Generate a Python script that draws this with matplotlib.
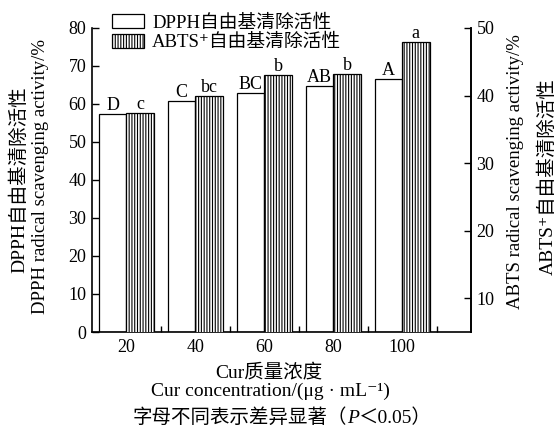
import matplotlib
matplotlib.use('Agg')
import matplotlib.pyplot as plt
import numpy as np

# values
concentrations = ['20', '40', '60', '80', '100']
dpph_values = [57.4, 60.7, 62.8, 64.7, 66.7]
abts_values = [37.4, 39.9, 43.0, 43.2, 48.0]
dpph_letters = ['D', 'C', 'BC', 'AB', 'A']
abts_letters = ['c', 'bc', 'b', 'b', 'a']

plt.rcParams['font.family'] = ['Liberation Serif', 'Noto Sans CJK SC', 'DejaVu Sans']
plt.rcParams['font.size'] = 12.5
plt.rcParams['hatch.linewidth'] = 0.8

W, H = 558, 436
fig = plt.figure(figsize=(W / 100, H / 100), dpi=100)
ax = fig.add_axes([92 / W, 1 - 332 / H, (471 - 92) / W, (332 - 28) / H])
ax2 = ax.twinx()

x = np.arange(len(concentrations))
bw = 0.4
b1 = ax.bar(x - bw / 2, dpph_values, bw, color='white', edgecolor='black', linewidth=0.9)
b2 = ax2.bar(x + bw / 2, abts_values, bw, color='white', edgecolor='black',
             hatch='||||||', linewidth=0.9)

for xi, v, s in zip(x, dpph_values, dpph_letters):
    ax.annotate(s, (xi - bw / 2, v), xytext=(0, 0), textcoords='offset points',
                ha='center', va='bottom', fontsize=13)
for xi, v, s in zip(x, abts_values, abts_letters):
    ax2.annotate(s, (xi + bw / 2, v), xytext=(0, 0), textcoords='offset points',
                 ha='center', va='bottom', fontsize=13)

ax.set_xlim(-0.5, 5.0)
ax.set_ylim(0, 80)
ax2.set_ylim(5, 50)

for a in (ax, ax2):
    a.spines['top'].set_visible(False)
    for sp in a.spines.values():
        sp.set_linewidth(1.2)
ax2.spines['left'].set_visible(False)
ax2.spines['bottom'].set_visible(False)

ax.set_xticks(x)
ax.set_xticklabels(concentrations)
ax.tick_params(axis='x', which='major', length=0, pad=5, labelsize=13)
ax.set_xticks(np.arange(0.5, 5, 1), minor=True)
ax.tick_params(axis='x', which='minor', direction='in', length=4, width=1)
ax.set_yticks(range(0, 81, 10))
ax.tick_params(axis='y', direction='in', length=5, width=1, pad=4, labelsize=13)
ax2.set_yticks(range(10, 51, 10))
ax2.tick_params(axis='y', direction='in', length=5, width=1, pad=4, labelsize=13)

ax2.legend([b1, b2], ['DPPH自由基清除活性', 'ABTS⁺自由基清除活性'],
           loc='upper left', bbox_to_anchor=(112 / W, 1 - 14 / H),
           bbox_transform=fig.transFigure, frameon=False, fontsize=13.5,
           handlelength=1.7, handleheight=0.8, handletextpad=0.45,
           labelspacing=0.1, borderpad=0, borderaxespad=0)

# axis titles
fig.text(19 / W, 1 - 180 / H, 'DPPH自由基清除活性', rotation=90, ha='center', va='center', fontsize=14)
fig.text(41 / W, 1 - 176 / H, 'DPPH radical scavenging activity/%', rotation=90,
         ha='center', va='center', fontsize=13.5)
fig.text(516 / W, 1 - 172 / H, 'ABTS radical scavenging activity/%', rotation=90,
         ha='center', va='center', fontsize=13.5)
fig.text(548 / W, 1 - 177 / H, 'ABTS⁺自由基清除活性', rotation=90, ha='center', va='center', fontsize=14)

fig.text(269 / W, 1 - 372 / H, 'Cur质量浓度', ha='center', va='center', fontsize=14)
fig.text(270 / W, 1 - 391 / H, 'Cur concentration/(μg · mL⁻¹)', ha='center', va='center', fontsize=14)

# caption with italic P
renderer = fig.canvas.get_renderer()
parts = [('字母不同表示差异显著（', 'normal'), ('P', 'italic'), ('＜0.05）', 'normal')]
texts = [fig.text(0, 1 - 418 / H, s, style=st, ha='left', va='center', fontsize=14)
         for s, st in parts]
widths = [t.get_window_extent(renderer).width for t in texts]
x0 = 282 - sum(widths) / 2
for t, w in zip(texts, widths):
    t.set_x(x0 / W)
    x0 += w

fig.savefig('out.png', dpi=100)
